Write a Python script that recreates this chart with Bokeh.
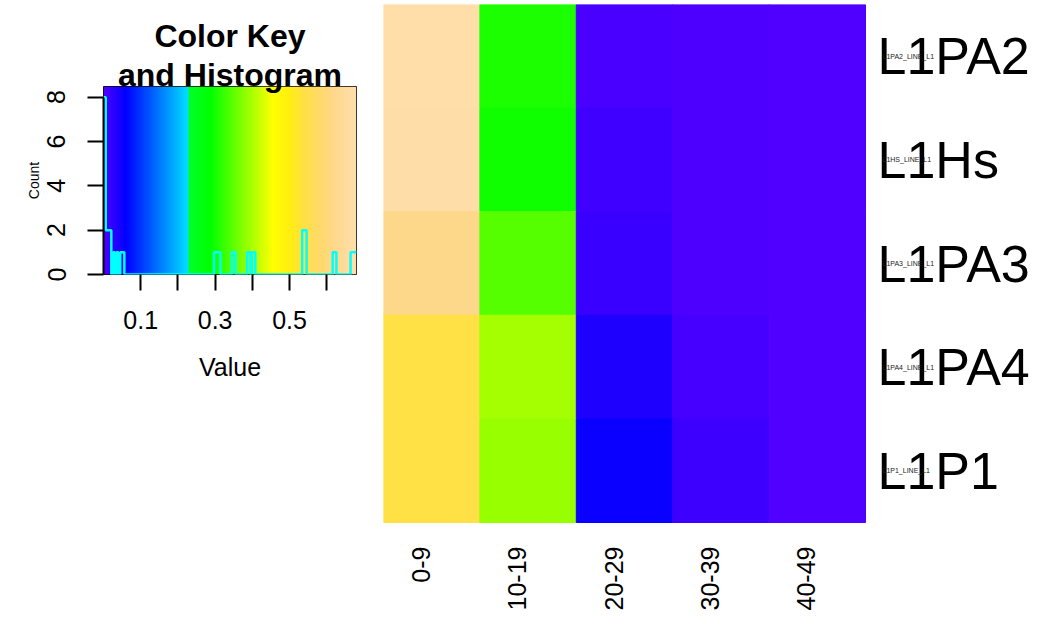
import numpy as np
from bokeh.plotting import figure
from bokeh.models import (ColumnDataSource, LinearColorMapper, FixedTicker, Range1d, Title)
from bokeh.core.properties import value
from bokeh.layouts import row
from bokeh.transform import transform
from bokeh.embed import file_html
from bokeh.resources import INLINE

# ---------------- data ----------------
columns = ["0-9", "10-19", "20-29", "30-39", "40-49"]
rows = ["L1PA2", "L1Hs", "L1PA3", "L1PA4", "L1P1"]
row_ids = ["L1PA2_LINE_L1", "L1HS_LINE_L1", "L1PA3_LINE_L1", "L1PA4_LINE_L1", "L1P1_LINE_L1"]

L1PA2 = [0.675, 0.304, 0.0045, 0.0010, 0.0000]
L1Hs = [0.672, 0.298, 0.0130, 0.0010, 0.0000]
L1PA3 = [0.620, 0.343, 0.0165, 0.0010, 0.0000]
L1PA4 = [0.540, 0.396, 0.0375, 0.0075, 0.0000]
L1P1 = [0.540, 0.386, 0.0525, 0.0143, 0.0000]
values_by_row = [L1PA2, L1Hs, L1PA3, L1PA4, L1P1]

# histogram
hist_breaks = [0.0, 0.006, 0.021, 0.026, 0.031, 0.035, 0.040, 0.045, 0.056,
               0.297, 0.314, 0.345, 0.355, 0.386, 0.395, 0.399, 0.408,
               0.534, 0.546, 0.616, 0.626, 0.664, 0.68]
hist_counts = [8, 2, 0, 1, 0, 1, 0, 1, 0,
               1, 0, 1, 0, 1, 0, 1, 0,
               2, 0, 1, 0, 1]

key_ticks = [0.1, 0.3, 0.5]
key_minor_ticks = [0.2, 0.4, 0.6]
count_ticks = [0, 2, 4, 6, 8]
value_min, value_max = 0.0, 0.68
count_max = 8.48

# colour scale stops
color_stops = [0.0, 0.06, 0.228, 0.229, 0.287, 0.455, 0.50, 0.54, 0.60, 0.62, 0.68]
color_hex = ["#5000FF", "#0000FF", "#00E0FF", "#00FF2A", "#00FF00", "#FFFF00",
             "#FFEE10", "#FFE045", "#FFD87A", "#FED88A", "#FFDEAD"]

# ---------------- palette ----------------
N = 680
centers = (np.arange(N) + 0.5) / N * (value_max - value_min) + value_min
chan = []
for k in range(3):
    stops_c = [int(h[1 + 2 * k:3 + 2 * k], 16) for h in color_hex]
    chan.append(np.interp(centers, color_stops, stops_c))
palette = ["#%02x%02x%02x" % (int(round(r)), int(round(g)), int(round(b)))
           for r, g, b in zip(*chan)]
mapper = LinearColorMapper(palette=palette, low=value_min, high=value_max)

FONT = "Liberation Sans"

# ---------------- heatmap ----------------
n_cols, n_rows = len(columns), len(rows)
HEAT_W, HEAT_H = 680, 620           # figure size (px)
CELLS_W, CELLS_H, TOP = 482, 518, 4  # pixel extent of the cell block inside it
frame_h = HEAT_H - TOP

xs, ys, vs = [], [], []
for ri, vals in enumerate(values_by_row):
    for ci, v in enumerate(vals):
        xs.append(ci + 0.5)
        ys.append(n_rows - ri - 0.5)
        vs.append(v)
src = ColumnDataSource(dict(x=xs, y=ys, value=vs))

heat = figure(width=HEAT_W, height=HEAT_H,
              x_range=Range1d(0, n_cols * HEAT_W / CELLS_W),
              y_range=Range1d(n_rows - n_rows * frame_h / CELLS_H, n_rows),
              x_axis_location=None, y_axis_location=None, title_location=None,
              toolbar_location=None, output_backend="svg", frame_align=False,
              min_border=0, min_border_top=TOP)
heat.rect(x="x", y="y", width=1, height=1, source=src,
          fill_color=transform("value", mapper), line_color=transform("value", mapper),
          line_width=1)
heat.grid.visible = False
heat.outline_line_color = None

row_src = ColumnDataSource(dict(x=[n_cols] * n_rows,
                                y=[n_rows - i - 0.5 for i in range(n_rows)],
                                name=rows, rid=row_ids))
heat.text(x="x", y="y", text="name", source=row_src, x_offset=12,
          text_font=value(FONT), text_font_size="52px", text_baseline="middle",
          text_align="left", text_color="black")
heat.text(x="x", y="y", text="rid", source=row_src, x_offset=17,
          text_font=value(FONT), text_font_size="7px", text_baseline="middle",
          text_align="left", text_color="#222222")

col_src = ColumnDataSource(dict(x=[i + 0.5 for i in range(n_cols)], y=[0] * n_cols,
                                name=columns))
heat.text(x="x", y="y", text="name", source=col_src, angle=np.pi / 2,
          x_offset=-11, y_offset=24,
          text_font=value(FONT), text_font_size="25px", text_baseline="alphabetic",
          text_align="right", text_color="black")

# ---------------- colour key ----------------
key = figure(width=383, height=400,
             x_range=Range1d(value_min, value_max), y_range=Range1d(0, count_max),
             title_location=None, toolbar_location=None, output_backend="svg",
             frame_align=False,
             min_border_left=103, min_border_right=27, min_border_top=86, min_border_bottom=126)
key.image(image=[centers[None, :]], x=value_min, y=0, dw=value_max - value_min, dh=count_max,
          color_mapper=mapper)
key.step(hist_breaks, hist_counts + [hist_counts[-1]], mode="after",
         line_color="#00FFFF", line_width=2.5)
key.grid.visible = False
key.outline_line_color = "black"
key.outline_line_width = 1

kx = key.xaxis[0]
kx.ticker = FixedTicker(ticks=key_ticks, minor_ticks=key_minor_ticks)
kx.axis_line_color = None
kx.major_tick_in = 0
kx.major_tick_out = 16
kx.minor_tick_in = 0
kx.minor_tick_out = 16
kx.major_tick_line_width = 2
kx.minor_tick_line_width = 2
kx.minor_tick_line_color = "black"
kx.major_label_text_font = FONT
kx.major_label_text_font_size = "25px"
kx.major_label_text_color = "black"
kx.major_label_standoff = 20
kx.axis_label = "Value"
kx.axis_label_text_font = FONT
kx.axis_label_text_font_size = "25px"
kx.axis_label_text_font_style = "normal"
kx.axis_label_text_color = "black"
kx.axis_label_standoff = 21

ky = key.yaxis[0]
ky.ticker = FixedTicker(ticks=count_ticks)
ky.bounds = (count_ticks[0], count_ticks[-1])
ky.axis_line_width = 2
ky.major_tick_in = 0
ky.major_tick_out = 16
ky.major_tick_line_width = 2
ky.minor_tick_line_color = None
ky.major_label_orientation = "parallel"
ky.major_label_text_font = FONT
ky.major_label_text_font_size = "25px"
ky.major_label_text_color = "black"
ky.major_label_standoff = 22
ky.axis_label = "Count"
ky.axis_label_text_font = FONT
ky.axis_label_text_font_size = "14px"
ky.axis_label_text_font_style = "normal"
ky.axis_label_text_color = "black"
ky.axis_label_standoff = 3

key.add_layout(Title(text="and Histogram", align="center", text_font=FONT,
                     text_font_size="32px", text_font_style="bold", text_color="black",
                     standoff=-12), "above")
key.add_layout(Title(text="Color Key", align="center", text_font=FONT,
                     text_font_size="32px", text_font_style="bold", text_color="black",
                     standoff=14), "above")

layout = row(key, heat)
open("out.html", "w").write(file_html(layout, INLINE))
